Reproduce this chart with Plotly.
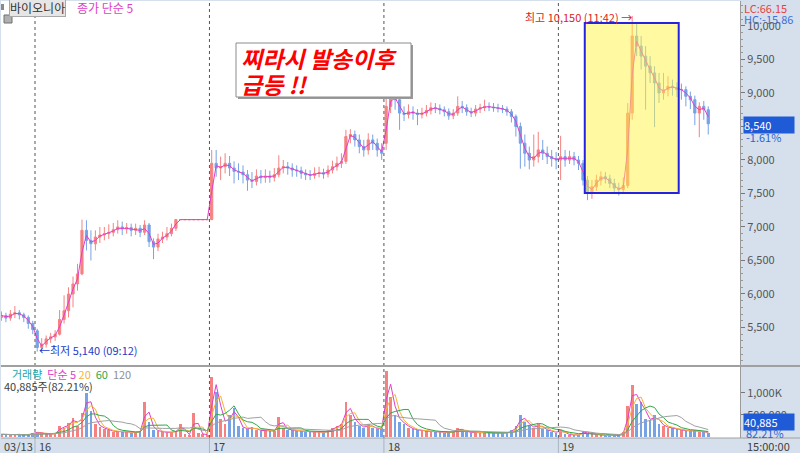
import plotly.graph_objects as go
import pandas as pd

# 10-minute bars: 03/13 (tail), 16, 17, 18, 19
opens = [
    5650, 5680, 5640, 5700, 5720, 5690, 5650, 5560,
    # 16
    5450, 5200, 5250, 5330, 5360, 5400, 5620, 5750, 6000, 6150, 6300, 6950, 6800,
    6750, 6850, 6880, 6900, 6920, 6960, 7000, 6970, 6990, 6950, 6980, 6920, 7030,
    6780, 6700, 6820, 6850, 6900, 6980, 7110, 7110, 7110, 7110, 7110, 7110, 7110,
    # 17
    7110, 7950, 7880, 7900, 7950, 7880, 7830, 7820, 7780, 7700, 7680, 7760, 7740,
    7760, 7740, 7780, 7880, 7900, 7880, 7850, 7840, 7800, 7780, 7770, 7800, 7810,
    7790, 7850, 7900, 7950, 7980, 8350, 8380, 8300, 8200, 8150, 8300, 8250, 8150,
    # 18
    8250, 8800, 8950, 8900, 8700, 8680, 8720, 8700, 8680, 8700, 8740, 8780, 8770,
    8750, 8720, 8660, 8700, 8800, 8780, 8720, 8700, 8760, 8780, 8800, 8790, 8780,
    8770, 8760, 8720, 8650, 8500, 8250, 8100, 8000, 8050, 8150, 8100, 8050, 8020,
    # 19
    8000, 8050, 8000, 8050, 8000, 7950, 7700, 7520, 7600, 7700, 7750, 7720, 7650,
    7580, 7560, 7620, 8700, 9850, 9700, 9550, 9400, 9300, 9150, 9000, 9050, 9100,
    9080, 9050, 9050, 8950, 8900, 8700, 8800, 8750,
]
highs = [
    5740, 5720, 5760, 5820, 5760, 5720, 5680, 5600,
    5480, 5340, 5380, 5420, 5460, 5760, 5980, 6100, 6260, 6450, 7110, 7100, 6950,
    6950, 7000, 7000, 7040, 7060, 7100, 7080, 7060, 7050, 7050, 7030, 7100, 7060,
    6830, 6900, 6930, 7000, 7050, 7110, 7110, 7110, 7110, 7110, 7110, 7110, 7110,
    8150, 8150, 8050, 8100, 8060, 7980, 7950, 7920, 7850, 7820, 7860, 7850, 7860,
    7840, 7880, 8070, 8000, 7970, 7950, 7920, 7900, 7860, 7850, 7890, 7900, 7870,
    7920, 7990, 8050, 8100, 8450, 8460, 8440, 8380, 8300, 8400, 8380, 8320, 8250,
    9200, 9120, 9050, 8960, 8800, 8830, 8800, 8760, 8780, 8820, 8860, 8850, 8830,
    8800, 8770, 8760, 8950, 8880, 8830, 8780, 8820, 8840, 8900, 8860, 8850, 8840,
    8820, 8800, 8760, 8680, 8560, 8380, 8200, 8380, 8420, 8300, 8200, 8150, 8120,
    8360, 8150, 8140, 8120, 8060, 8000, 7760, 7700, 7780, 7830, 7820, 7780, 7720,
    7660, 7740, 8850, 10150, 10050, 9850, 9700, 9550, 9400, 9300, 9300, 9250, 9200,
    9160, 9140, 9100, 9020, 8960, 8860, 8880, 8800,
]
lows = [
    5600, 5580, 5600, 5640, 5620, 5580, 5480, 5400,
    5140, 5140, 5200, 5270, 5300, 5380, 5560, 5650, 5800, 6050, 6280, 6650, 6500,
    6650, 6760, 6800, 6820, 6860, 6900, 6880, 6900, 6860, 6880, 6850, 6880, 6700,
    6520, 6640, 6760, 6800, 6860, 6940, 7110, 7110, 7110, 7110, 7110, 7110, 7110,
    7110, 7750, 7700, 7800, 7760, 7650, 7700, 7650, 7540, 7580, 7620, 7650, 7660,
    7660, 7680, 7740, 7800, 7780, 7750, 7750, 7720, 7700, 7700, 7720, 7740, 7720,
    7740, 7800, 7840, 7880, 7940, 8250, 8200, 8100, 8050, 8080, 8150, 8050, 8000,
    8150, 8700, 8750, 8450, 8580, 8620, 8600, 8520, 8620, 8650, 8680, 8700, 8680,
    8650, 8600, 8610, 8660, 8700, 8660, 8640, 8650, 8700, 8730, 8730, 8720, 8710,
    8700, 8660, 8560, 8350, 7870, 7900, 7860, 7900, 7960, 8000, 7940, 7900, 7860,
    7700, 7900, 7940, 7920, 7850, 7620, 7400, 7420, 7540, 7620, 7650, 7580, 7500,
    7470, 7500, 7580, 8600, 9550, 9350, 8750, 9150, 8490, 8850, 8900, 8950, 8960,
    8940, 8900, 8800, 8760, 8520, 8340, 8600, 8380,
]
closes = [
    5680, 5640, 5700, 5720, 5690, 5650, 5560, 5470,
    5200, 5250, 5330, 5360, 5400, 5620, 5750, 6000, 6150, 6300, 6950, 6800, 6750,
    6850, 6880, 6900, 6920, 6960, 7000, 6970, 6990, 6950, 6980, 6920, 7030, 6780,
    6700, 6820, 6850, 6900, 6980, 7110, 7110, 7110, 7110, 7110, 7110, 7110, 7110,
    7950, 7880, 7900, 7950, 7880, 7830, 7820, 7780, 7700, 7680, 7760, 7740, 7760,
    7740, 7780, 7880, 7900, 7880, 7850, 7840, 7800, 7780, 7770, 7800, 7810, 7790,
    7850, 7900, 7950, 7980, 8350, 8380, 8300, 8200, 8150, 8300, 8250, 8150, 8100,
    8800, 8950, 8900, 8700, 8680, 8720, 8700, 8680, 8700, 8740, 8780, 8770, 8750,
    8720, 8660, 8700, 8800, 8780, 8720, 8700, 8760, 8780, 8800, 8790, 8780, 8770,
    8760, 8720, 8650, 8500, 8250, 8100, 8000, 8050, 8150, 8100, 8050, 8020, 8000,
    8050, 8000, 8050, 8000, 7950, 7700, 7520, 7600, 7700, 7750, 7720, 7650, 7580,
    7560, 7620, 8700, 9850, 9700, 9550, 9400, 9300, 9150, 9000, 9050, 9100, 9080,
    9050, 9050, 8950, 8900, 8700, 8800, 8750, 8540,
]
volumes = [
    60, 50, 40, 70, 50, 40, 60, 90,
    120, 80, 60, 70, 80, 250, 200, 320, 430, 250, 550, 1000, 600,
    300, 230, 180, 150, 120, 130, 110, 120, 100, 110, 130, 800, 330,
    150, 140, 110, 100, 120, 130, 300, 60, 50, 540, 80, 60, 50,
    1360, 1020, 420, 300, 500, 650, 250, 200, 180, 220, 160, 140, 150,
    130, 140, 450, 200, 160, 150, 140, 130, 120, 110, 120, 110, 100,
    150, 200, 250, 300, 800, 500, 350, 250, 200, 300, 200, 180, 200,
    1500, 900, 500, 350, 300, 200, 180, 150, 140, 130, 120, 120, 110,
    100, 110, 120, 200, 150, 110, 100, 100, 110, 100, 90, 90, 80,
    90, 100, 150, 250, 500, 350, 250, 200, 300, 180, 150, 120, 100,
    160, 60, 50, 40, 50, 130, 90, 60, 50, 40, 40, 35, 40,
    50, 120, 700, 1180, 750, 790, 420, 380, 500, 300, 250, 200, 200,
    180, 150, 140, 130, 150, 120, 110, 100,
]
volumes = [v * 1000 for v in volumes]

day_breaks = [7.5, 46.5, 85.5, 124.5]
day_labels = ["16", "17", "18", "19"]

COLORS = {
    "up": "#F58282",
    "down": "#76A2E6",
    "ma": "#E53CC8",
    "panel": "#D6E0ED",
    "text": "#4A4A4A",
}
VOL_MA = {"ma5": ("#E040C8", 2), "ma20": ("#F5B335", 3), "ma60": ("#2EA84A", 6), "ma120": ("#A0A0A0", 12)}

df = pd.DataFrame({"open": opens, "high": highs, "low": lows, "close": closes, "volume": volumes})
df["x"] = range(len(df))
df["ma"] = df["close"].rolling(2, min_periods=1).mean()

W, H = 800, 453
L, R, T, B = 1, 60, 1, 15
pw, ph = W - L - R, H - T - B


def px_x(px):
    return (px - L) / pw


def px_y(py):
    return (H - B - py) / ph


fig = go.Figure()

fig.add_trace(go.Candlestick(
    x=df["x"], open=df["open"], high=df["high"], low=df["low"], close=df["close"],
    increasing=dict(line=dict(color=COLORS["up"], width=1), fillcolor=COLORS["up"]),
    decreasing=dict(line=dict(color=COLORS["down"], width=1), fillcolor=COLORS["down"]),
    whiskerwidth=0, showlegend=False, hoverinfo="skip",
))
fig.add_trace(go.Scatter(
    x=df["x"], y=df["ma"], mode="lines",
    line=dict(color=COLORS["ma"], width=1), showlegend=False, hoverinfo="skip",
))

vol_colors = [COLORS["up"] if c >= o else COLORS["down"] for o, c in zip(df["open"], df["close"])]
fig.add_trace(go.Bar(
    x=df["x"], y=df["volume"], marker_color=vol_colors, marker_line_width=0,
    width=0.6, yaxis="y2", showlegend=False, hoverinfo="skip",
))
for name, (color, win) in VOL_MA.items():
    fig.add_trace(go.Scatter(
        x=df["x"], y=df["volume"].rolling(win, min_periods=1).mean(), mode="lines",
        line=dict(color=color, width=1), yaxis="y2", showlegend=False, hoverinfo="skip",
    ))

# day separators
for xb in day_breaks:
    fig.add_shape(type="line", xref="x", yref="paper", x0=xb, x1=xb, y0=0, y1=1,
                  line=dict(color="#555555", width=1, dash="dot"))
    fig.add_shape(type="line", xref="x", yref="paper", x0=xb, x1=xb, y0=px_y(H), y1=0,
                  line=dict(color="#A9B4C2", width=1))

# highlighted box
fig.add_shape(type="rect", xref="x", yref="y", x0=130.4, x1=151.4, y0=7507, y1=10045,
              fillcolor="rgba(255,244,70,0.5)", line=dict(color="#2424E0", width=2), layer="above")

# note box (drawn as a shape, text added as annotations)
fig.add_shape(type="rect", xref="paper", yref="paper", x0=px_x(238), x1=px_x(413), y0=px_y(99), y1=px_y(45),
              fillcolor="#9A9A9A", line_width=0, layer="above")
fig.add_shape(type="rect", xref="paper", yref="paper", x0=px_x(236), x1=px_x(411), y0=px_y(97), y1=px_y(43),
              fillcolor="white", line=dict(color="#8C8C8C", width=1), layer="above")

# panel divider and bottom bar border
fig.add_shape(type="line", xref="paper", yref="paper", x0=0, x1=1 + R / pw, y0=px_y(366), y1=px_y(366),
              line=dict(color="#A0A0A0", width=2))
fig.add_shape(type="line", xref="paper", yref="paper", x0=0, x1=1 + R / pw, y0=0, y1=0,
              line=dict(color="#A0A0A0", width=1))

# top-left icons
fig.add_shape(type="rect", xref="paper", yref="paper", x0=px_x(1), x1=px_x(4), y0=px_y(10), y1=px_y(4),
              fillcolor="#8A8A8A", line_width=0)
fig.add_shape(type="rect", xref="paper", yref="paper", x0=px_x(4), x1=px_x(12), y0=px_y(23), y1=px_y(15),
              fillcolor="#B0B0B0", line=dict(color="#707070", width=1))

font = "Noto Sans CJK KR"
note_font = dict(size=23, color="#FF0000", weight="bold", style="italic")
ann = [
    dict(x=px_x(9), y=px_y(8), text="바이오니아", xanchor="left", yanchor="middle",
         font=dict(size=12, color="#333333"), bgcolor="#E6E6E6", bordercolor="#A8A8A8", borderpad=0),
    dict(x=px_x(75), y=px_y(8), text="종가 단순 5", xanchor="left", yanchor="middle",
         font=dict(size=12, color="#E040C8")),
    dict(x=px_x(239), y=px_y(58), text="찌라시 발송이후", xanchor="left", yanchor="middle",
         font=dict(note_font)),
    dict(x=px_x(239), y=px_y(84), text="급등 !!", xanchor="left", yanchor="middle",
         font=dict(note_font)),
    dict(x=px_x(634), y=px_y(17), text="최고 10,150 (11:42) →", xanchor="right", yanchor="middle",
         font=dict(size=11, color="#E02020")),
    dict(x=px_x(37), y=px_y(350), text="←최저 5,140 (09:12)", xanchor="left", yanchor="middle",
         font=dict(size=11, color="#1E3CC8")),
    dict(x=px_x(742), y=px_y(8), text="LC:66.15", xanchor="left", yanchor="middle",
         font=dict(size=11, color="#E84040")),
    dict(x=px_x(742), y=px_y(19), text="HC:-15.86", xanchor="left", yanchor="middle",
         font=dict(size=11, color="#3D6FD8")),
    dict(x=px_x(743), y=px_y(124.5), text="8,540", xanchor="left", yanchor="middle", align="left",
         width=50, font=dict(size=11, color="white"), bgcolor="#1F5BD6", borderpad=0),
    dict(x=px_x(744), y=px_y(137), text="-1.61%", xanchor="left", yanchor="middle",
         font=dict(size=11, color="#2F62D0")),
    dict(x=px_x(743), y=px_y(422), text="40,885", xanchor="left", yanchor="middle", align="left",
         width=50, font=dict(size=11, color="white"), bgcolor="#1F5BD6", borderpad=0),
    dict(x=px_x(744), y=px_y(433), text="82.21%", xanchor="left", yanchor="middle",
         font=dict(size=11, color="#2F62D0")),
    dict(x=px_x(745), y=px_y(446), text="15:00:00", xanchor="left", yanchor="middle",
         font=dict(size=11, color="#404040")),
    dict(x=px_x(2), y=px_y(446), text="03/13", xanchor="left", yanchor="middle",
         font=dict(size=11, color="#404040")),
    dict(x=px_x(10), y=px_y(374),
         text="<span style='color:#1FA5A5'>거래량</span>  <span style='color:#E040C8'>단순 5</span> "
              "<span style='color:#F5B335'>20</span>  <span style='color:#2EA84A'>60</span>  "
              "<span style='color:#909090'>120</span>",
         xanchor="left", yanchor="middle", font=dict(size=11)),
    dict(x=px_x(2), y=px_y(386), text="40,885주(82.21%)", xanchor="left", yanchor="middle",
         font=dict(size=11, color="#404040")),
]
for xb, lab in zip(day_breaks, day_labels):
    ann.append(dict(x=xb, xref="x", y=px_y(446), text=lab, xanchor="left", yanchor="middle", xshift=2,
                    font=dict(size=11, color="#404040")))
for a in ann:
    a.setdefault("xref", "paper")
    a.setdefault("yref", "paper")
    a.setdefault("showarrow", False)
    a["font"].setdefault("family", font)
fig.update_layout(annotations=ann)

fig.update_layout(
    width=W, height=H,
    margin=dict(l=L, r=R, t=T, b=B),
    paper_bgcolor=COLORS["panel"],
    plot_bgcolor="white",
    font=dict(family=font, size=11, color=COLORS["text"]),
    showlegend=False,
    bargap=0,
    xaxis=dict(range=[-0.1, 165.1], showticklabels=False, ticks="", showgrid=False, zeroline=False,
               rangeslider=dict(visible=False), anchor="y2", fixedrange=True),
    yaxis=dict(domain=[px_y(365), 1], range=[4940, 10373], side="right", tickvals=list(range(5500, 10001, 500)),
               tickformat=",d", ticks="outside", ticklen=4, tickcolor="#777777", showgrid=False, zeroline=False,
               showline=True, linecolor="#9A9A9A", tickfont=dict(size=11, color="#555555"),
               minor=dict(dtick=100, ticks="outside", ticklen=2, tickcolor="#999999")),
    yaxis2=dict(domain=[0, px_y(367)], range=[-22700, 1590000], side="right", anchor="x",
                tickvals=[500000, 1000000], ticktext=["500,000", "1,000K"], ticks="outside", ticklen=4,
                tickcolor="#777777", showgrid=False, zeroline=False, showline=True, linecolor="#9A9A9A",
                tickfont=dict(size=11, color="#555555")),
)

fig.write_html("out.html", config={"displayModeBar": False},
               post_script="document.body.style.margin='0';")
